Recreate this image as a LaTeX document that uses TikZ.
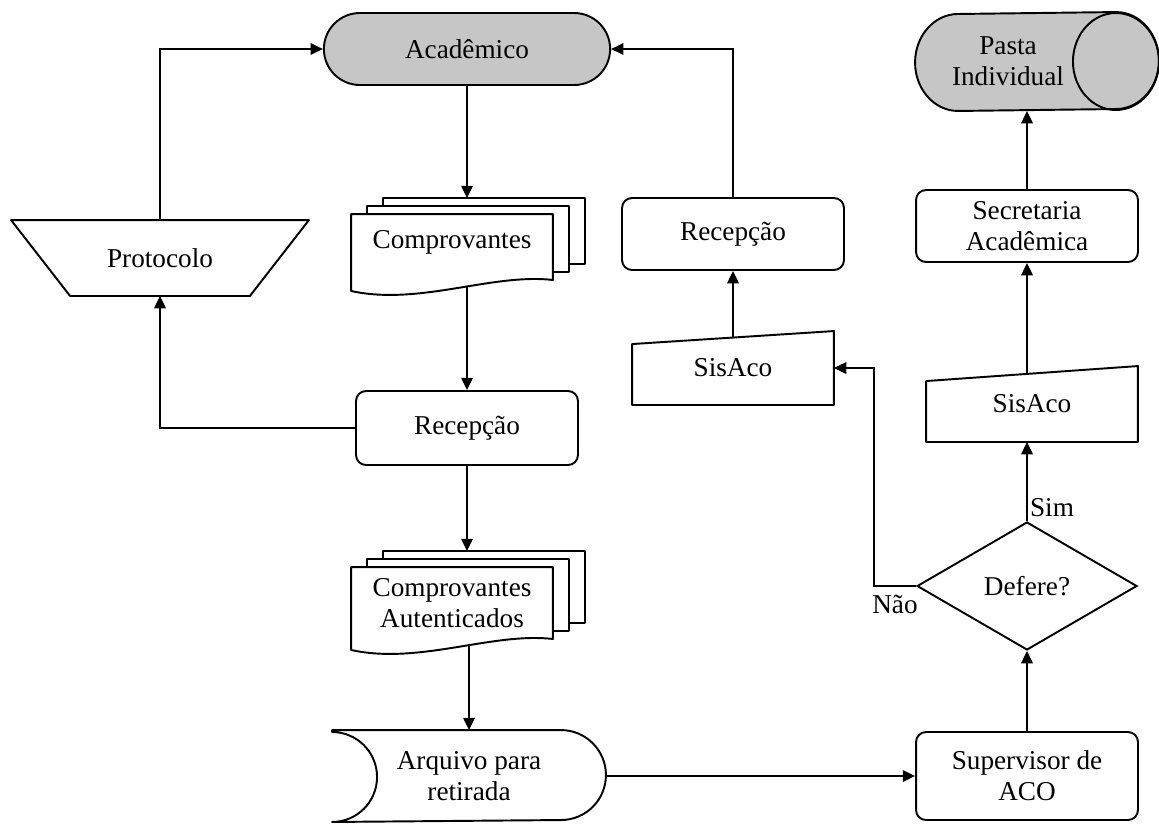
\documentclass[tikz,border=0pt]{standalone}
\usepackage{fontspec}
\setmainfont{Liberation Serif}
\usetikzlibrary{calc,arrows.meta,shapes.geometric,shapes.misc}
\pgfdeclarelayer{flowlayer}
\pgfdeclarelayer{shapelayer}
\pgfsetlayers{flowlayer,shapelayer,main}
\newcommand{\docstack}[1]{%
  \foreach \k in {2,1}{
    \draw[outline] ($(#1.north west)+(16*\k,-8*\k)$) rectangle ($(#1.south east)+(16*\k,-8*\k)$);
  }
  \draw[outline] (#1.north west) -- (#1.north east) -- (#1.south east)
    .. controls ($(#1.south east)+(-61,-7)$) and ($(#1.south west)+(68,26)$) .. ($(#1.south west)+(0,11)$) -- cycle;
  \coordinate (#1top) at ($(#1.north)+(15,-16)$);
}

\begin{document}
\begin{tikzpicture}[x=0.02cm,y=-0.02cm,line width=1.1pt,
  font=\fontsize{15.5}{17.5}\selectfont,
  flow/.style={draw,line width=1.1pt,-{Triangle[length=7pt,width=6.5pt]}},
  outline/.style={draw,line width=1.1pt,fill=white,line join=round},
  txt/.style={inner sep=0pt,align=center},
  boxnode/.style={draw,rounded corners=.2cm,minimum width=4.44cm,minimum height=1.44cm,align=center},
  grayfill/.style={fill=gray!45}]
 \useasboundingbox (0,0) rectangle (1159,823);
 % nodes
 \node[rounded rectangle,draw,grayfill,minimum width=5.96cm,minimum height=1.44cm] (acad) at (467,49) {Acadêmico};
 \node[txt,minimum width=5.92cm,minimum height=1.48cm] (proto) at (160,258) {Protocolo};
 \node[txt,minimum width=4cm,minimum height=1.28cm,text depth=8pt] (comp) at (452,247) {Comprovantes};
 \node[boxnode,minimum height=1.48cm] (rec1) at (467,428) {Recepção};
 \node[txt,minimum width=4cm,minimum height=1.4cm] (comp2) at (452,603) {Comprovantes\\Autenticados};
 \node[txt,minimum width=5.44cm,minimum height=1.8cm] (arq) at (469,776) {Arquivo para\\retirada};
 \node[boxnode,minimum height=1.76cm] (sup) at (1027,776) {Supervisor de\\ACO};
 \node[diamond,draw,aspect=1.72,inner sep=0pt,minimum width=4.4cm,minimum height=2.56cm] (def) at (1027,586) {Defere?};
 \node[txt,minimum width=4cm,minimum height=1.44cm] (sis1) at (733,368) {SisAco};
 \node[boxnode] (rec2) at (733,234) {Recepção};
 \node[txt,minimum width=4.2cm,minimum height=1.48cm] (sis2) at (1032,404) {SisAco};
 \node[boxnode] (sec) at (1027,226) {Secretaria\\Acadêmica};
 \node[txt,minimum width=3.68cm,minimum height=1.94cm] (pasta) at (1008,61.5) {Pasta\\Individual};
 \node (sim) at (1052,508) {Sim};
 \node (nao) at (895,604) {Não};
 % drawn shapes
 \begin{pgfonlayer}{shapelayer}
  \draw[outline] (proto.north west) -- (proto.north east) -- ($(proto.south east)+(-59,0)$)
    -- ($(proto.south west)+(59,0)$) -- cycle;
  \docstack{comp}
  \docstack{comp2}
  \draw[outline] (arq.north west) -- ($(arq.north east)+(-45,0)$)
    arc[start angle=90,end angle=-90,radius=.9cm] -- (arq.south west)
    arc[start angle=-90,end angle=90,radius=.9cm] -- cycle;
  \draw[outline] ($(sis1.north west)+(0,13)$) -- (sis1.north east) -- (sis1.south east) -- (sis1.south west) -- cycle;
  \draw[outline] ($(sis2.north west)+(0,15)$) -- (sis2.north east) -- (sis2.south east) -- (sis2.south west) -- cycle;
  \draw[outline,grayfill] ($(pasta.south west)+(43,0)$)
    arc[start angle=270,end angle=90,x radius=.86cm,y radius=.97cm] -- ($(pasta.north east)+(15,0)$)
    arc[start angle=90,end angle=-90,x radius=.86cm,y radius=.97cm] -- cycle;
  \draw[line width=1.1pt] ($(pasta.east)+(15,0)$) ellipse[x radius=.86cm,y radius=.97cm];
 \end{pgfonlayer}
 % connectors
 \begin{pgfonlayer}{flowlayer}
  \draw[flow] (proto.north) |- (acad.west);
  \draw[flow] (rec2.north) |- (acad.east);
  \draw[flow] (acad.south) -- (acad.south |- comptop);
  \draw[flow] (comp.center -| rec1.north) -- (rec1.north);
  \draw[flow] (rec1.west) -| (proto.south);
  \draw[flow] (rec1.south) -- (rec1.south |- comp2top);
  \draw[flow] (comp2.center -| arq.north) -- (arq.north);
  \draw[flow] (arq.east) -- (sup.west);
  \draw[flow] (sup.north) -- (def.south);
  \draw[flow] (def.north) -- (def.north |- sis2.south);
  \draw[flow] (sis2.center -| sec.south) -- (sec.south);
  \draw[flow] (sec.north) -- (sec.north |- pasta.south);
  \draw[flow] (def.west) -- ++(-42,0) |- (sis1.east);
  \draw[flow] (sis1.center) -- (rec2.south);
 \end{pgfonlayer}
\end{tikzpicture}
\end{document}
